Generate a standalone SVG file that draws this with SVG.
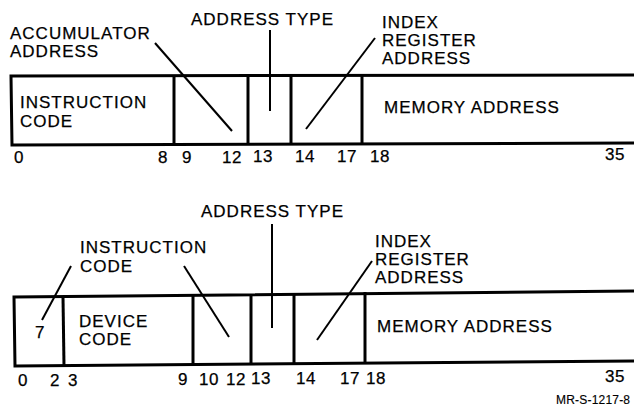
<svg xmlns="http://www.w3.org/2000/svg" width="634" height="412" viewBox="0 0 634 412">
<style>
text{font-family:"Liberation Sans",Arial,sans-serif;font-size:17px;letter-spacing:1px;fill:#000;stroke:#000;stroke-width:0.25}
.n{letter-spacing:0.5px}
.box{fill:none;stroke:#000;stroke-width:3}
.div{stroke:#000;stroke-width:3}
.ln{stroke:#000;stroke-width:2;fill:none}
.sm{font-size:12px;letter-spacing:0.2px;stroke-width:0.15}
</style>
<rect width="634" height="412" fill="#fff"/>
<g id="word1">
<g id="w1-box">
<polyline class="box" points="634,75 11,76 12,145 634,143"/>
<line class="div" x1="174" y1="76" x2="174" y2="144"/>
<line class="div" x1="248" y1="75" x2="248" y2="144"/>
<line class="div" x1="291" y1="75" x2="291" y2="144"/>
<line class="div" x1="362" y1="74" x2="362" y2="144"/>
</g>
<g id="w1-instr"><text x="20" y="108">INSTRUCTION</text><text x="20" y="127">CODE</text></g>
<g id="w1-acc"><text x="10" y="39">ACCUMULATOR</text><text x="10" y="57">ADDRESS</text></g>
<g id="w1-at"><text x="191" y="25">ADDRESS TYPE</text></g>
<g id="w1-idx"><text x="382" y="28">INDEX</text><text x="382" y="46">REGISTER</text><text x="382" y="64">ADDRESS</text></g>
<g id="w1-mem"><text x="384" y="113">MEMORY ADDRESS</text></g>
<g id="w1-bits">
<text class="n" x="14" y="163">0</text>
<text class="n" x="158" y="163">8</text>
<text class="n" x="182" y="163">9</text>
<text class="n" x="222" y="163">12</text>
<text class="n" x="253" y="162">13</text>
<text class="n" x="295" y="162">14</text>
<text class="n" x="337" y="162">17</text>
<text class="n" x="370" y="162">18</text>
<text class="n" x="605" y="160">35</text>
</g>
</g>
<g id="word2">
<g id="w2-box">
<polyline class="box" points="634,291 14,297 15,366 634,361"/>
<line class="div" x1="63" y1="297" x2="64" y2="366"/>
<line class="div" x1="193" y1="296" x2="193" y2="365"/>
<line class="div" x1="251" y1="295" x2="251" y2="364"/>
<line class="div" x1="294" y1="294" x2="294" y2="364"/>
<line class="div" x1="365" y1="292" x2="365" y2="363"/>
</g>
<g id="w2-seven"><text x="35" y="338">7</text></g>
<g id="w2-dev"><text x="79" y="327">DEVICE</text><text x="79" y="345">CODE</text></g>
<g id="w2-instr"><text x="80" y="253">INSTRUCTION</text><text x="80" y="272">CODE</text></g>
<g id="w2-at"><text x="201" y="217">ADDRESS TYPE</text></g>
<g id="w2-idx"><text x="375" y="247">INDEX</text><text x="375" y="265">REGISTER</text><text x="375" y="283">ADDRESS</text></g>
<g id="w2-mem"><text x="377" y="332">MEMORY ADDRESS</text></g>
<g id="w2-bits">
<text class="n" x="18" y="386">0</text>
<text class="n" x="50" y="386">2</text>
<text class="n" x="68" y="386">3</text>
<text class="n" x="178" y="385">9</text>
<text class="n" x="199" y="385">10</text>
<text class="n" x="226" y="385">12</text>
<text class="n" x="251" y="384">13</text>
<text class="n" x="296" y="384">14</text>
<text class="n" x="340" y="384">17</text>
<text class="n" x="366" y="384">18</text>
<text class="n" x="605" y="382">35</text>
</g>
<text class="sm" x="556" y="404">MR-S-1217-8</text>
</g>
<g id="connectors">
<line class="ln" x1="155" y1="43" x2="232" y2="131"/>
<line class="ln" x1="270" y1="30" x2="270" y2="111"/>
<line class="ln" x1="375" y1="38" x2="306" y2="129"/>
<line class="ln" x1="71" y1="266" x2="42" y2="320"/>
<line class="ln" x1="184" y1="266" x2="229" y2="337"/>
<line class="ln" x1="272" y1="224" x2="272" y2="328"/>
<line class="ln" x1="372" y1="261" x2="317" y2="340"/>
</g>
</svg>
